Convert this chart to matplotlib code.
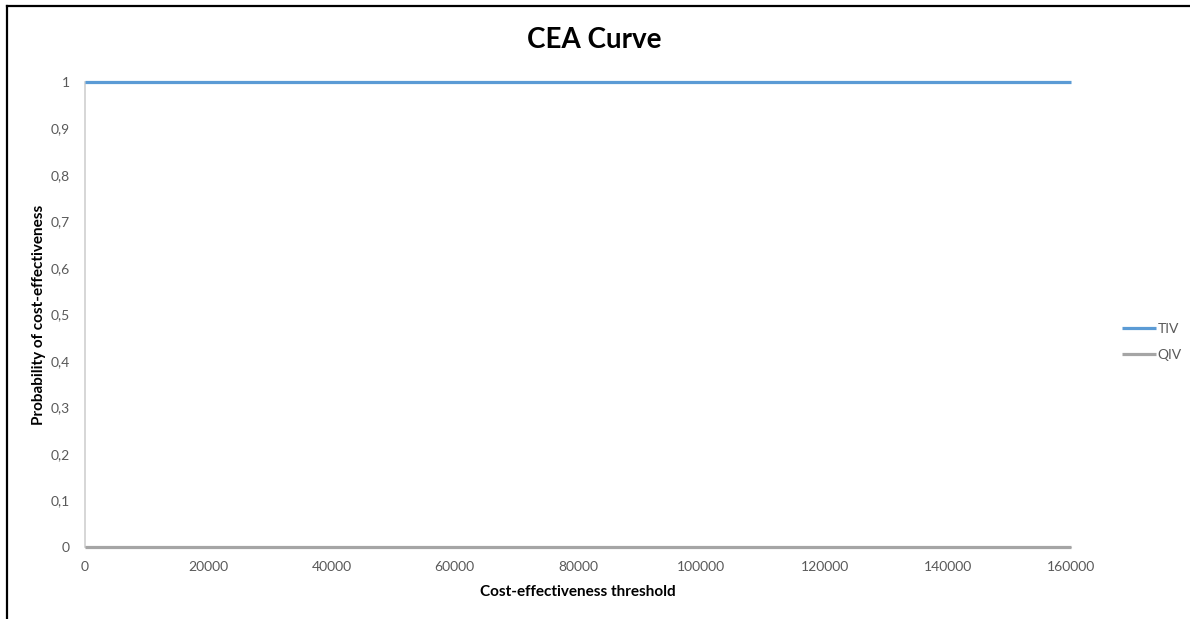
import matplotlib

matplotlib.use("Agg")
import matplotlib.pyplot as plt
from matplotlib.lines import Line2D
from matplotlib.ticker import FuncFormatter

plt.rcParams["font.family"] = ["Lato", "DejaVu Sans"]

# willingness-to-pay thresholds and probability that each vaccine is cost-effective
thresholds = [0, 10000, 20000, 30000, 40000, 50000, 60000, 70000, 80000,
              90000, 100000, 110000, 120000, 130000, 140000, 150000, 160000]
tiv = [1, 1, 1, 1, 1, 1, 1, 1, 1, 1, 1, 1, 1, 1, 1, 1, 1]
qiv = [0, 0, 0, 0, 0, 0, 0, 0, 0, 0, 0, 0, 0, 0, 0, 0, 0]
x_ticks = [0, 20000, 40000, 60000, 80000, 100000, 120000, 140000, 160000]
y_ticks = [0, 0.1, 0.2, 0.3, 0.4, 0.5, 0.6, 0.7, 0.8, 0.9, 1]

fig = plt.figure(figsize=(11.9, 6.19), dpi=100)
ax = fig.add_axes([0.0714, 0.1163, 0.8286, 0.7512])

ax.plot(thresholds, tiv, color="#5B9BD5", lw=2.3, label="TIV", clip_on=False,
        solid_capstyle="butt", zorder=3)
ax.plot(thresholds, qiv, color="#A5A5A5", lw=2.3, label="QIV", clip_on=False,
        solid_capstyle="butt", zorder=3)

ax.set_xlim(0, 160000)
ax.set_ylim(0, 1)
ax.set_xticks(x_ticks)
ax.set_yticks(y_ticks)
ax.yaxis.set_major_formatter(FuncFormatter(lambda v, _: f"{v:g}".replace(".", ",")))
ax.tick_params(length=0, labelsize=10, labelcolor="#595959")
ax.tick_params(axis="x", pad=10)
ax.tick_params(axis="y", pad=11)

for side in ("top", "right"):
    ax.spines[side].set_visible(False)
ax.spines["left"].set_color("#D0D0D0")
ax.spines["left"].set_linewidth(1.2)
ax.spines["bottom"].set_color("#D0D0D0")

ax.set_xlabel("Cost-effectiveness threshold", fontsize=11, fontweight="bold", labelpad=9)
ax.set_ylabel("Probability of cost-effectiveness", fontsize=11, fontweight="bold", labelpad=3)
fig.text(0.499, 0.935, "CEA Curve", ha="center", va="center", fontsize=20, fontweight="bold")

fig.legend(loc="center left", bbox_to_anchor=(0.932, 0.4475), frameon=False,
           fontsize=10, handlelength=2.5, handletextpad=0.1, labelspacing=1.05,
           labelcolor="#595959")

# chart frame edges
fig.add_artist(Line2D([0.0055, 0.0055], [0, 0.99], color="black", lw=1.6,
                      transform=fig.transFigure))
fig.add_artist(Line2D([0.0055, 1], [0.99, 0.99], color="black", lw=1.6,
                      transform=fig.transFigure))

fig.savefig("out.png", dpi=100)
